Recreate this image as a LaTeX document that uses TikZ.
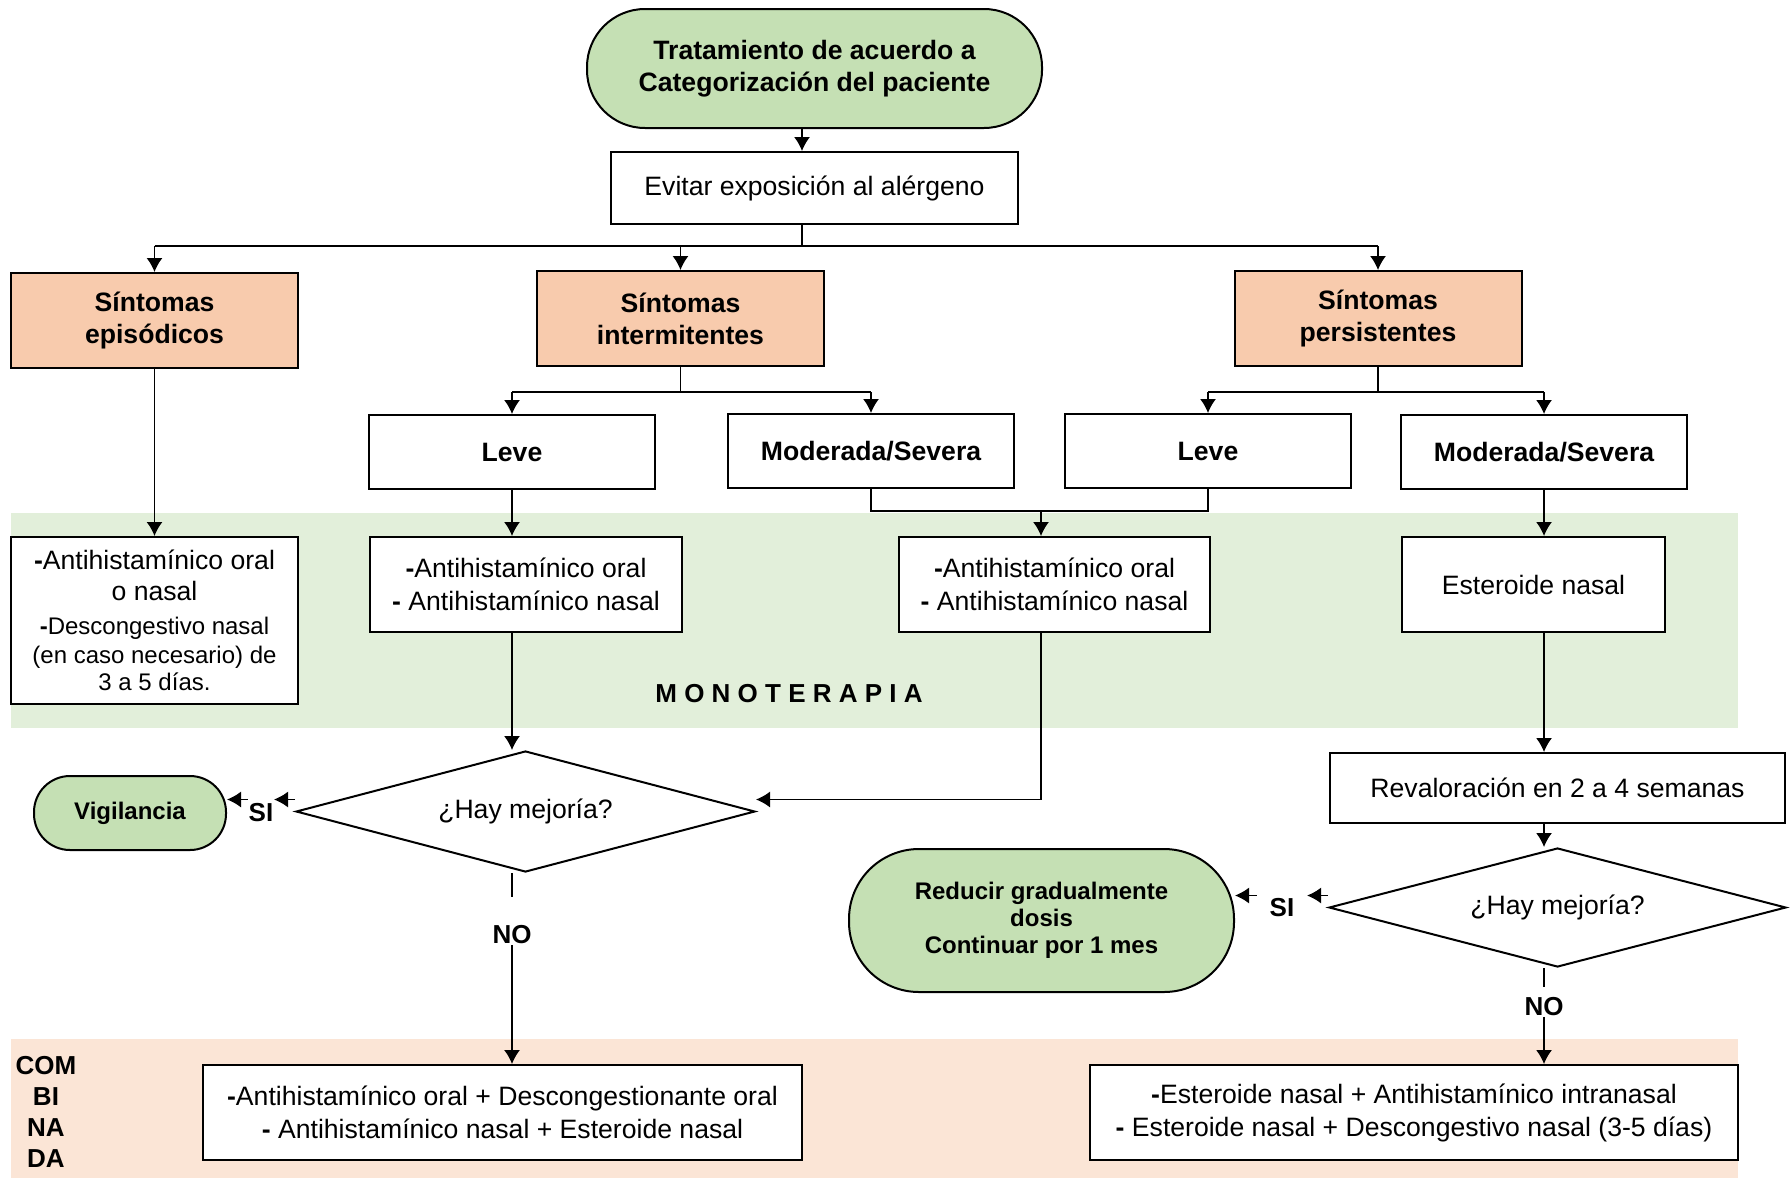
\documentclass[tikz,border=0pt]{standalone}
\usepackage{fontspec}
\setmainfont{Liberation Sans}
\usetikzlibrary{shapes.geometric,arrows.meta}
\definecolor{verde}{HTML}{C5E0B4}
\definecolor{naranja}{HTML}{F8CBAD}
\definecolor{fondoverde}{HTML}{E2EFDA}
\definecolor{fondonaranja}{HTML}{FBE5D6}
\tikzset{
  caja/.style={draw,fill=white,line width=1pt,inner sep=0pt,align=center,font=\fontsize{13.3}{16.5}\selectfont},
  sintoma/.style={caja,fill=naranja,font=\fontsize{13.3}{16}\selectfont\bfseries},
  termino/.style={caja,fill=verde,font=\fontsize{12}{13.5}\selectfont\bfseries},
  pregunta/.style={diamond,aspect=3.8,draw,fill=white,line width=1pt,inner sep=0pt,font=\fontsize{13.3}{16}\selectfont},
  etiqueta/.style={inner sep=0pt,font=\fontsize{13}{15.5}\selectfont\bfseries},
}
\begin{document}
\begin{tikzpicture}[x=0.5pt,y=-0.5pt,>={Latex[length=7pt,width=8pt]},line width=0.75pt]
    \useasboundingbox (0,0) rectangle (1792,1178);
    % fondos
    \fill[fondoverde] (11,513) rectangle (1738,728);
    \fill[fondonaranja] (11,1039) rectangle (1738,1178);
    \node[etiqueta] (mono) at (789,694) {M O N O T E R A P I A};
    \node[etiqueta,align=center] (combi) at (46,1112) {COM\\BI\\NA\\DA};
    % inicio
    \node[termino,minimum width=227.5pt,minimum height=59.5pt,rounded corners=29pt,font=\fontsize{13.3}{16}\selectfont\bfseries] (tto) at (814.5,68.5) {Tratamiento de acuerdo a\\Categorización del paciente};
    \node[caja,minimum width=203.5pt,minimum height=36pt] (evitar) at (814.5,188) {Evitar exposición al alérgeno};
    \node[sintoma,minimum width=143.5pt,minimum height=47.5pt] (epi) at (154.5,320.5) {Síntomas\\episódicos};
    \foreach \n/\x/\t in {inter/680.5/intermitentes,pers/1378/persistentes}
        \node[sintoma,minimum width=143.5pt,minimum height=47.5pt] (\n) at (\x,318.5) {Síntomas\\\t};
    \node[caja,font=\fontsize{13.3}{16}\selectfont\bfseries,minimum width=143pt,minimum height=37pt] (leve1) at (512,452) {Leve};
    \node[caja,font=\fontsize{13.3}{16}\selectfont\bfseries,minimum width=143pt,minimum height=37pt] (mod1) at (871,451) {Moderada/Severa};
    \node[caja,font=\fontsize{13.3}{16}\selectfont\bfseries,minimum width=143pt,minimum height=37pt] (leve2) at (1208,451) {Leve};
    \node[caja,font=\fontsize{13.3}{16}\selectfont\bfseries,minimum width=143pt,minimum height=37pt] (mod2) at (1544,452) {Moderada/Severa};
    % monoterapia
    \node[caja,minimum width=143.5pt,minimum height=83.5pt] (tepi) at (154.5,620.5) {{\bfseries-}Antihistamínico oral\\[-1pt]o nasal\\[0.5pt]{\fontsize{12}{14}\selectfont{\bfseries-}Descongestivo nasal}\\[-2pt]{\fontsize{12}{14}\selectfont(en caso necesario) de}\\[-3pt]{\fontsize{12}{14}\selectfont 3 a 5 días.}};
    \node[caja,minimum width=156pt,minimum height=47.5pt] (tleve) at (526,584.5) {{\bfseries-}Antihistamínico oral\\{\bfseries-} Antihistamínico nasal};
    \node[caja,minimum width=155.5pt,minimum height=47.5pt] (tmod) at (1054.5,584.5) {{\bfseries-}Antihistamínico oral\\{\bfseries-} Antihistamínico nasal};
    \node[caja,minimum width=131.5pt,minimum height=47.5pt] (ester) at (1533.5,584.5) {Esteroide nasal};
    % revaloracion
    \node[pregunta,minimum width=229.5pt,minimum height=60.5pt] (hay1) at (525.5,811.5) {¿Hay mejoría?};
    \node[termino,minimum width=96pt,minimum height=37pt,rounded corners=18pt] (vig) at (130,813) {Vigilancia};
    \node[caja,minimum width=227.5pt,minimum height=35pt] (reval) at (1557.5,788) {Revaloración en 2 a 4 semanas};
    \node[pregunta,minimum width=228.5pt,minimum height=59.5pt] (hay2) at (1557.5,907.5) {¿Hay mejoría?};
    \node[termino,minimum width=192.5pt,minimum height=71.5pt,rounded corners=35pt] (reducir) at (1041.5,920.5) {Reducir gradualmente\\dosis\\Continuar por 1 mes};
    \node[etiqueta] (si1) at (261,813) {SI};
    \node[etiqueta] (no1) at (512,935) {NO};
    \node[etiqueta] (si2) at (1282,908) {SI};
    \node[etiqueta] (no2) at (1544,1007) {NO};
    % combinada
    \node[caja,minimum width=299.5pt,minimum height=47.5pt] (comb1) at (502.5,1112.5) {{\bfseries-}Antihistamínico oral + Descongestionante oral\\{\bfseries-} Antihistamínico nasal + Esteroide nasal};
    \node[caja,minimum width=324pt,minimum height=47.5pt] (comb2) at (1414,1112.5) {{\bfseries-}Esteroide nasal + Antihistamínico intranasal\\{\bfseries-} Esteroide nasal + Descongestivo nasal (3-5 días)};
    % conectores
    \coordinate (b0) at (802,246);
    \draw[->] (b0 |- tto.south) -- (b0 |- evitar.north);
    \draw (b0 |- evitar.south) -- (b0);
    \draw (b0 -| epi.north) -- (b0 -| pers.north);
    \foreach \n in {epi,inter,pers}
        \draw[->] (b0 -| \n.north) -- (\n.north);
    \coordinate (b1) at (680.5,392);
    \coordinate (b2) at (1378,392);
    \draw (inter.south) -- (b1);
    \draw (pers.south) -- (b2);
    \draw (b1 -| leve1.north) -- (b1 -| mod1.north);
    \draw (b2 -| leve2.north) -- (b2 -| mod2.north);
    \foreach \n/\b in {leve1/b1,mod1/b1,leve2/b2,mod2/b2}
        \draw[->] (\b -| \n.north) -- (\n.north);
    \draw[->] (epi.south) -- (tepi.north);
    \draw[->] (leve1.south) -- (leve1.south |- tleve.north);
    \coordinate (b3) at (1041,511);
    \draw (mod1.south) |- (leve2.south |- b3) -- (leve2.south);
    \draw[->] (b3) -- (b3 |- tmod.north);
    \draw[->] (mod2.south) -- (mod2.south |- ester.north);
    \draw[->] (mod2.south |- ester.south) -- (mod2.south |- reval.north);
    \draw[->] (mod2.south |- reval.south) -- (mod2.south |- hay2.north);
    \draw[->] (leve1.south |- tleve.south) -- (leve1.south |- hay1.north);
    \draw[->] (b3 |- tmod.south) |- ([yshift=6pt]hay1.east);
    % si / no
    \coordinate (a1) at ([yshift=6pt]hay1.west);
    \draw[->] (a1) -- (a1 -| si1.east);
    \draw[->] (a1 -| si1.west) -- (a1 -| vig.east);
    \coordinate (a2) at ([yshift=6pt]hay2.west);
    \draw[->] (a2) -- ([xshift=6pt]a2 -| si2.east);
    \draw[->] ([xshift=-6pt]a2 -| si2.west) -- (a2 -| reducir.east);
    \coordinate (n1) at (512,897);
    \coordinate (n2) at (1544,987);
    \draw (leve1.south |- hay1.south) -- (n1);
    \draw[->] (no1.south) -- (no1.south |- comb1.north);
    \draw (mod2.south |- hay2.south) -- (n2);
    \draw[->] (no2.south) -- (no2.south |- comb2.north);
\end{tikzpicture}
\end{document}
